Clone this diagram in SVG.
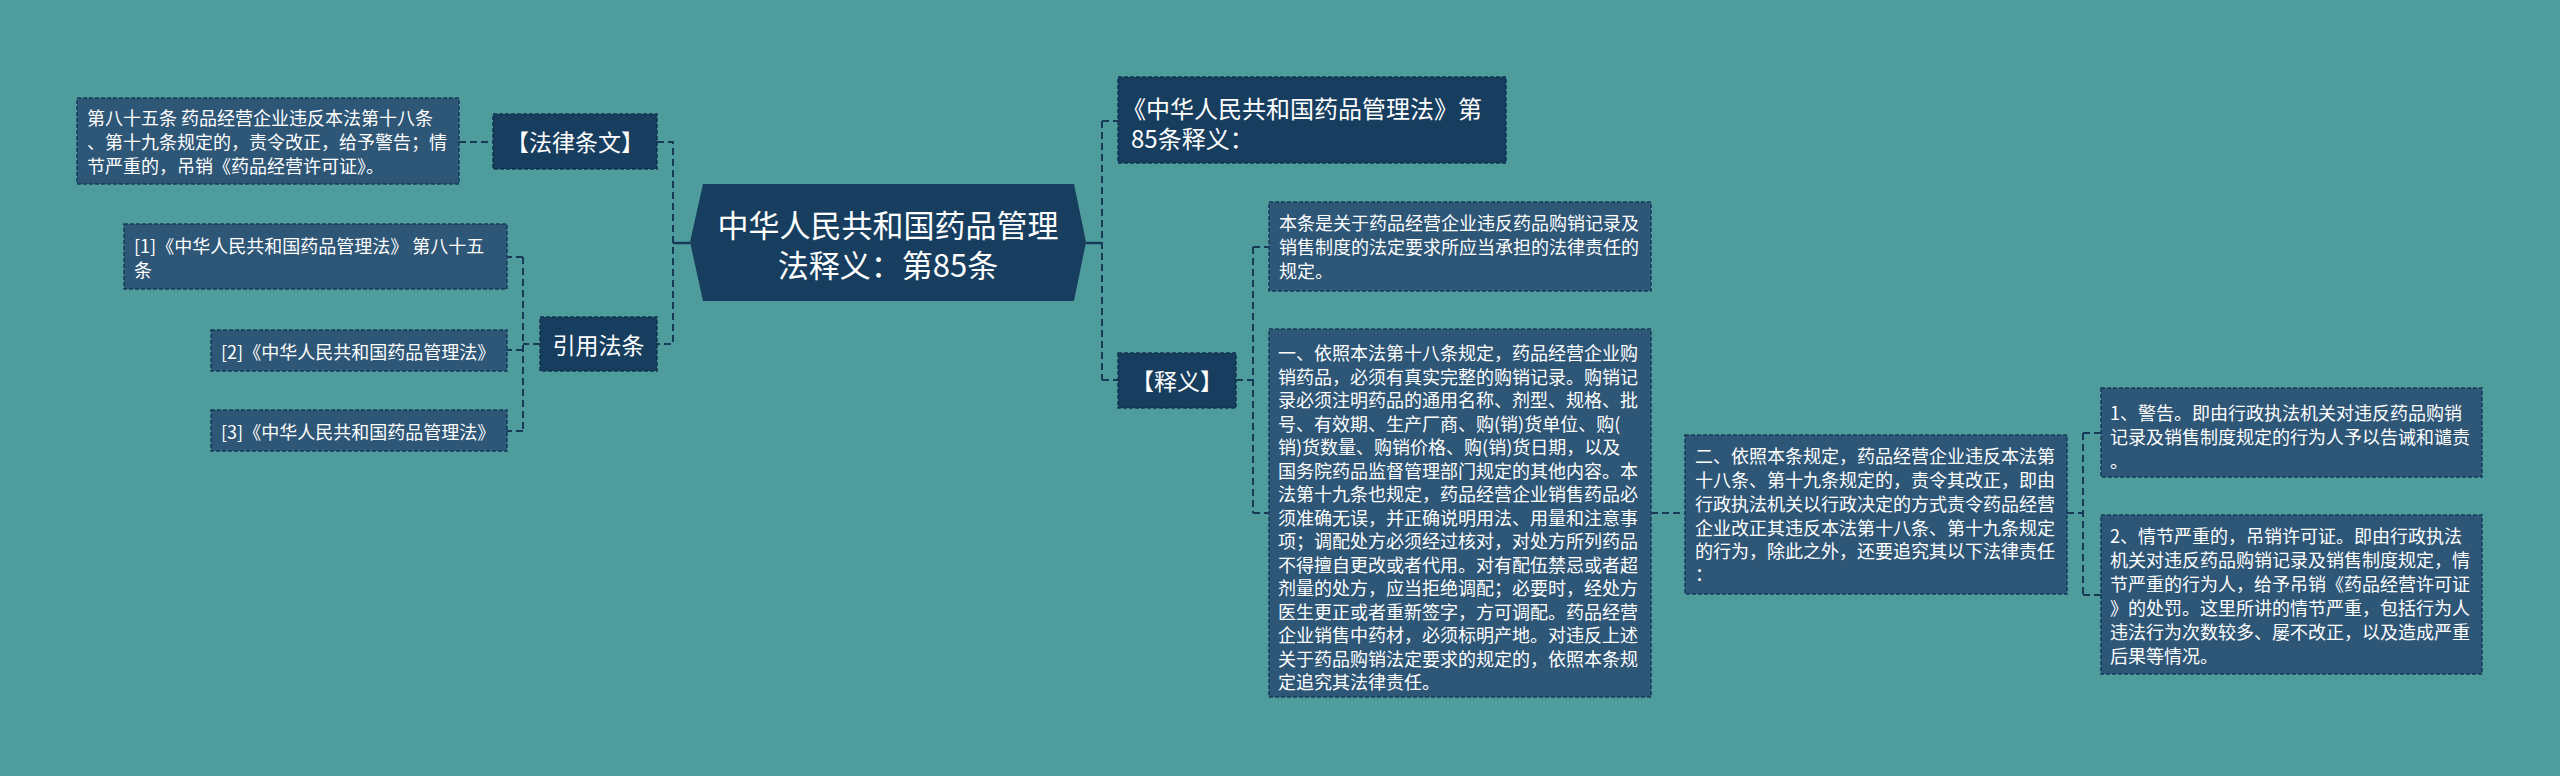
<svg xmlns="http://www.w3.org/2000/svg" width="2560" height="776" viewBox="0 0 2560 776">
<style>
text{font-family:"Noto Sans CJK SC","Noto Sans",sans-serif;fill:#ffffff;dominant-baseline:central}
.t{font-size:18px}
.m{font-size:23px;text-anchor:middle}
.c{font-size:31px;text-anchor:middle}
.dark{fill:#173e5f;stroke:#12334f;stroke-width:1.5;stroke-dasharray:4 2}
.box{fill:#2e5677;stroke:#173a58;stroke-width:1.5;stroke-dasharray:4 2}
.ln{fill:none;stroke:#173a58;stroke-width:2;stroke-dasharray:7 4}
.sl{fill:none;stroke:#173a58;stroke-width:2.5}
</style>
<rect x="0" y="0" width="2560" height="776" fill="#4e9c9c"/>
<g id="connectors">
<path class="sl" d="M690 243H673"/>
<path class="ln" d="M459 142H493M657 142H673V344H657"/>
<path class="ln" d="M540 344H523M523 257V431M523 257H507M523 350H507M523 431H507"/>
<path class="sl" d="M1086 243H1102"/>
<path class="ln" d="M1102 121V380M1102 121H1118M1102 380H1118"/>
<path class="ln" d="M1236 380H1253M1253 247V513M1253 247H1269M1253 513H1269"/>
<path class="ln" d="M1651 513H1685"/>
<path class="ln" d="M2067 513H2083M2083 433V595M2083 433H2101M2083 595H2101"/>
</g>
<g id="center">
<polygon points="703,184 1074,184 1086,242 1074,301 703,301 690,242" fill="#173e5f"/>
<text class="c" x="888" y="223">中华人民共和国药品管理</text>
<text class="c" x="888" y="263">法释义：第85条</text>
</g>
<g id="n-falv">
<rect class="dark" x="493" y="114" width="164" height="55"/>
<text class="m" x="575" y="141">【法律条文】</text>
</g>
<g id="n-falv-text">
<rect class="box" x="77" y="98" width="382" height="86"/>
<text class="t" x="87" y="117">第八十五条 药品经营企业违反本法第十八条</text>
<text class="t" x="87" y="141">、第十九条规定的，责令改正，给予警告；情</text>
<text class="t" x="87" y="165">节严重的，吊销《药品经营许可证》。</text>
</g>
<g id="n-yinyong">
<rect class="dark" x="540" y="317" width="117" height="54"/>
<text class="m" x="598.5" y="344">引用法条</text>
</g>
<g id="n-cite1">
<rect class="box" x="124" y="224" width="383" height="65"/>
<text class="t" x="134" y="244.5">[1]《中华人民共和国药品管理法》 第八十五</text>
<text class="t" x="134" y="268.5">条</text>
</g>
<g id="n-cite2">
<rect class="box" x="211" y="330" width="296" height="41"/>
<text class="t" x="221" y="350.5">[2]《中华人民共和国药品管理法》</text>
</g>
<g id="n-cite3">
<rect class="box" x="211" y="410" width="296" height="41"/>
<text class="t" x="221" y="430.5">[3]《中华人民共和国药品管理法》</text>
</g>
<g id="n-title">
<rect class="dark" x="1118" y="77" width="388" height="86"/>
<text x="1122" y="107" style="font-size:24px">《中华人民共和国药品管理法》第</text>
<text x="1131" y="137" style="font-size:24px">85条释义：</text>
</g>
<g id="n-shiyi">
<rect class="dark" x="1118" y="353" width="118" height="55"/>
<text class="m" x="1177" y="380">【释义】</text>
</g>
<g id="n-bentiao">
<rect class="box" x="1269" y="202" width="382" height="89"/>
<text class="t" x="1279" y="222">本条是关于药品经营企业违反药品购销记录及</text>
<text class="t" x="1279" y="246">销售制度的法定要求所应当承担的法律责任的</text>
<text class="t" x="1279" y="270">规定。</text>
</g>
<g id="n-yi">
<rect class="box" x="1269" y="329" width="382" height="368"/>
<text class="t" x="1278" y="352">一、依照本法第十八条规定，药品经营企业购</text>
<text class="t" x="1278" y="375.5">销药品，必须有真实完整的购销记录。购销记</text>
<text class="t" x="1278" y="399">录必须注明药品的通用名称、剂型、规格、批</text>
<text class="t" x="1278" y="422.5">号、有效期、生产厂商、购(销)货单位、购(</text>
<text class="t" x="1278" y="446">销)货数量、购销价格、购(销)货日期，以及</text>
<text class="t" x="1278" y="469.5">国务院药品监督管理部门规定的其他内容。本</text>
<text class="t" x="1278" y="493">法第十九条也规定，药品经营企业销售药品必</text>
<text class="t" x="1278" y="516.5">须准确无误，并正确说明用法、用量和注意事</text>
<text class="t" x="1278" y="540">项；调配处方必须经过核对，对处方所列药品</text>
<text class="t" x="1278" y="563.5">不得擅自更改或者代用。对有配伍禁忌或者超</text>
<text class="t" x="1278" y="587">剂量的处方，应当拒绝调配；必要时，经处方</text>
<text class="t" x="1278" y="610.5">医生更正或者重新签字，方可调配。药品经营</text>
<text class="t" x="1278" y="634">企业销售中药材，必须标明产地。对违反上述</text>
<text class="t" x="1278" y="657.5">关于药品购销法定要求的规定的，依照本条规</text>
<text class="t" x="1278" y="681">定追究其法律责任。</text>
</g>
<g id="n-er">
<rect class="box" x="1685" y="435" width="382" height="159"/>
<text class="t" x="1695" y="455">二、依照本条规定，药品经营企业违反本法第</text>
<text class="t" x="1695" y="479">十八条、第十九条规定的，责令其改正，即由</text>
<text class="t" x="1695" y="503">行政执法机关以行政决定的方式责令药品经营</text>
<text class="t" x="1695" y="527">企业改正其违反本法第十八条、第十九条规定</text>
<text class="t" x="1695" y="550">的行为，除此之外，还要追究其以下法律责任</text>
<text class="t" x="1695" y="573">：</text>
</g>
<g id="n-one">
<rect class="box" x="2101" y="388" width="381" height="89"/>
<text class="t" x="2110" y="412">1、警告。即由行政执法机关对违反药品购销</text>
<text class="t" x="2110" y="436">记录及销售制度规定的行为人予以告诫和谴责</text>
<text class="t" x="2110" y="460">。</text>
</g>
<g id="n-two">
<rect class="box" x="2101" y="515" width="381" height="159"/>
<text class="t" x="2110" y="535">2、情节严重的，吊销许可证。即由行政执法</text>
<text class="t" x="2110" y="559">机关对违反药品购销记录及销售制度规定，情</text>
<text class="t" x="2110" y="583">节严重的行为人，给予吊销《药品经营许可证</text>
<text class="t" x="2110" y="607">》的处罚。这里所讲的情节严重，包括行为人</text>
<text class="t" x="2110" y="631">违法行为次数较多、屡不改正，以及造成严重</text>
<text class="t" x="2110" y="655">后果等情况。</text>
</g>
</svg>
